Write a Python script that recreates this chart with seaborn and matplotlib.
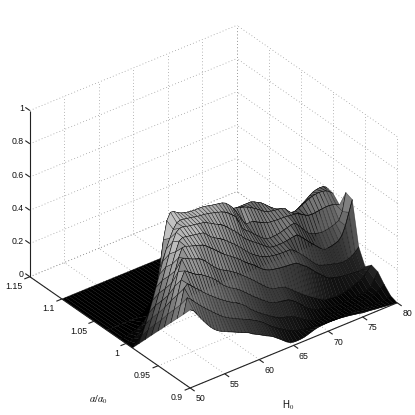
import numpy as np
import matplotlib
matplotlib.use("Agg")
import matplotlib.pyplot as plt
import seaborn as sns
from matplotlib.transforms import offset_copy
from mpl_toolkits.mplot3d import proj3d
from mpl_toolkits.mplot3d.art3d import Poly3DCollection

sns.set_theme(style="white")
plt.rcParams['font.family'] = ['Liberation Sans', 'DejaVu Sans']
plt.rcParams['mathtext.fontset'] = 'stix'

H_ticks = [50, 55, 60, 65, 70, 75, 80]
alpha_ticks = [0.9, 0.95, 1, 1.05, 1.1, 1.15]
alpha_tick_labels = ['0.9', '0.95', '1', '1.05', '1.1', '1.15']
z_ticks = [0, 0.2, 0.4, 0.6, 0.8, 1]
z_tick_labels = ['0', '0.2', '0.4', '0.6', '0.8', '1']

H_grid = np.arange(50, 80.5, 0.5)
alpha_rows = [0.90, 0.91, 0.92, 0.93, 0.94, 0.95, 0.96, 0.97, 0.98, 0.99, 1.00, 1.01, 1.03, 1.10]

# surface height (per mille) along each alpha row, H = 50 ... 80 in steps of 0.5
z_row_00 = [470,456,426,396,367,339,314,293,277,264,254,244,235,225,215,205,196,187,172,161,150,138,126,116,104,88,72,55,38,26,20,19,20,23,29,36,43,48,50,51,52,52,51,50,48,45,42,38,34,30,25,23,21,18,15,13,10,8,5,2,0]
z_row_01 = [417,507,490,468,447,425,405,386,367,348,330,312,297,285,274,263,252,242,232,222,210,198,185,170,152,133,118,103,89,77,63,53,45,38,32,27,22,19,17,15,14,13,12,11,11,10,10,10,10,10,10,10,9,8,7,6,5,5,6,10,15]
z_row_02 = [365,440,530,548,528,508,490,470,450,432,415,398,382,366,352,338,325,315,300,285,266,244,225,208,192,177,163,148,134,121,112,106,101,94,84,70,55,40,28,17,13,11,10,9,9,9,8,8,8,8,8,8,9,10,11,13,15,20,30,42,56]
z_row_03 = [313,385,465,545,590,575,560,545,535,524,510,495,478,460,437,414,395,380,366,354,339,322,303,284,266,249,232,216,200,186,177,171,167,164,159,148,132,114,93,72,55,42,32,25,20,16,13,11,9,7,7,8,8,9,10,11,14,20,34,70,106]
z_row_04 = [261,330,405,480,560,625,622,610,600,592,585,572,552,530,508,487,470,458,447,434,420,406,389,372,354,336,317,298,278,259,241,227,218,213,209,201,185,167,150,133,116,100,85,71,57,43,31,25,22,20,19,19,22,27,33,41,49,58,74,96,120]
z_row_05 = [209,270,335,400,465,530,600,650,650,642,635,628,622,615,600,583,565,547,528,510,495,480,465,450,432,413,395,380,365,345,328,313,303,296,292,288,285,283,281,279,276,262,245,230,210,188,168,148,130,111,101,94,88,83,80,77,75,73,71,73,84]
z_row_06 = [157,215,275,340,405,470,535,600,655,668,664,660,656,652,649,644,625,604,590,577,566,552,535,517,500,480,460,438,416,398,382,368,356,346,340,336,332,330,329,328,328,318,300,280,262,238,215,192,171,160,152,145,139,133,128,125,126,130,140,156,177]
z_row_07 = [104,160,220,285,350,420,490,560,625,672,688,688,682,677,674,670,666,663,652,640,628,617,607,592,573,553,535,512,488,463,445,428,414,398,381,364,351,346,344,344,345,348,352,356,358,340,318,297,275,255,235,215,203,203,206,212,220,245,295,365,433]
z_row_08 = [52,100,155,215,280,350,420,490,555,610,655,685,693,690,686,682,677,673,670,668,663,658,652,646,640,630,615,597,578,535,490,468,454,434,415,397,380,367,364,364,366,370,376,382,388,392,375,350,324,300,288,280,274,271,272,276,282,290,298,345,449]
z_row_09 = [0,20,40,70,100,145,205,300,420,575,680,722,718,703,692,685,680,677,675,675,675,672,667,662,658,654,650,640,620,597,565,525,490,463,465,462,450,440,430,420,416,414,412,411,410,408,405,402,398,385,372,362,360,362,365,368,370,370,366,358,348]
z_row_10 = [0,5,10,20,30,45,70,110,180,270,370,460,520,560,580,590,595,598,600,600,600,598,595,590,585,578,572,566,560,556,552,548,543,537,530,520,510,497,483,468,452,442,437,433,430,428,420,395,372,378,386,396,406,416,424,428,430,428,422,408,390]
z_row_11 = [0,0,0,5,10,15,25,40,70,110,160,220,280,330,380,420,450,470,485,495,500,503,505,505,505,504,503,502,501,500,500,500,500,500,500,500,500,500,500,492,480,469,452,433,415,398,384,368,352,338,326,332,348,362,376,392,405,412,415,413,400]
z_row_back = [0] * 61
z_row_end = [0] * 61

Z = np.array([z_row_00, z_row_01, z_row_02, z_row_03, z_row_04, z_row_05, z_row_06,
              z_row_07, z_row_08, z_row_09, z_row_10, z_row_11,
              z_row_back, z_row_end], dtype=float) / 1000.0
A = np.array(alpha_rows)
H = H_grid
BOX = (261, 262.5, 196.4)
gray_map = sns.color_palette("gray", as_cmap=True)

fig = plt.figure(figsize=(4.15, 4.15), dpi=100, facecolor='white')
ax = fig.add_axes([0, 0, 1, 1], projection='3d', proj_type='ortho', computed_zorder=False)
ax.set_xlim(50, 80, view_margin=0)
ax.set_ylim(0.9, 1.15, view_margin=0)
ax.set_zlim(0, 1, view_margin=0)
ax.view_init(elev=32.3, azim=-127.6)
ax.set_box_aspect(BOX)
ax.set_axis_off()

GRID = dict(color='#8c8c8c', lw=0.55, ls=(0, (1, 3.2)), zorder=1)
for h in H_ticks:
    ax.plot([h, h], [0.9, 1.15], [0, 0], **GRID)
    ax.plot([h, h], [1.15, 1.15], [0, 1], **GRID)
for a in alpha_ticks:
    ax.plot([50, 80], [a, a], [0, 0], **GRID)
    ax.plot([80, 80], [a, a], [0, 1], **GRID)
for z in z_ticks:
    ax.plot([50, 80], [1.15, 1.15], [z, z], **GRID)
    ax.plot([80, 80], [0.9, 1.15], [z, z], **GRID)

# facets
polys, faces, edges = [], [], []
lit = np.array([-0.80, -0.35, 0.48])
lit = lit / np.linalg.norm(lit)
for i in range(len(A) - 1):
    for j in range(len(H) - 1):
        p = [(H[j], A[i], Z[i, j]), (H[j + 1], A[i], Z[i, j + 1]),
             (H[j + 1], A[i + 1], Z[i + 1, j + 1]), (H[j], A[i + 1], Z[i + 1, j])]
        polys.append(p)
        v1 = np.array([(H[j + 1] - H[j]) / 30 * BOX[0], 0, (Z[i, j + 1] - Z[i, j]) * BOX[2]])
        v2 = np.array([0, (A[i + 1] - A[i]) / 0.25 * BOX[1], (Z[i + 1, j] - Z[i, j]) * BOX[2]])
        n = np.cross(v1, v2)
        n = n / np.linalg.norm(n)
        if n[2] < 0:
            n = -n
        lam = max(float(n @ lit), 0.0)
        zm = float(np.mean([q[2] for q in p]))
        g = 1.02 * zm ** 0.95 * (0.88 + 0.35 * lam)
        if i >= 11:
            g = 0.0
        faces.append(gray_map(min(g, 0.76)))
        edges.append((0, 0, 0, 0.5))
for i in range(12):
    for j in range(len(H) - 1):
        a1 = (H[j], A[i], Z[i, j])
        a2 = (H[j + 1], A[i], Z[i, j + 1])
        polys.append([a1, a2, a2, a1])
        faces.append((0, 0, 0, 0))
        edges.append((0, 0, 0, 1))
surf = Poly3DCollection(polys, facecolors=faces, edgecolors=edges, linewidths=0.42,
                        zsort='average', zorder=2)
ax.add_collection3d(surf)

# axes lines & ticks
AX = dict(color='#222222', lw=0.8, zorder=3, solid_capstyle='butt')
ax.plot([50, 50], [0.9, 1.15], [0, 0], **AX)
ax.plot([50, 80], [0.9, 0.9], [0, 0], **AX)
ax.plot([50, 50], [1.15, 1.15], [0, 1], **AX)
for h in H_ticks:
    ax.plot([h, h], [0.9, 0.893], [0, 0], **AX)
for a in alpha_ticks:
    ax.plot([50, 49.2], [a, a], [0, 0], **AX)
for z in z_ticks:
    ax.plot([50, 50], [1.15, 1.157], [z, z], **AX)

# calibrate the axes box onto the reference's corner positions
targets = {(50, 0.9, 0): (190, 388), (80, 0.9, 0): (397, 303), (50, 1.15, 0): (30, 277), (50, 1.15, 1): (30, 110)}
def where():
    fig.canvas.draw()
    out = []
    M = ax.get_proj()
    for k in targets:
        x, y, _ = proj3d.proj_transform(*k, M)
        out.append(ax.transData.transform((x, y)))
    return np.array(out)
want = np.array([(x, 415 - y) for x, y in targets.values()], dtype=float)
for _ in range(3):
    got = where()
    s = np.sqrt(((want - want.mean(0)) ** 2).sum() / ((got - got.mean(0)) ** 2).sum())
    pos = ax.get_position()
    w = pos.width * s
    cx = pos.x0 + pos.width / 2
    cy = pos.y0 + pos.height / 2
    ax.set_position([cx - w / 2, cy - w / 2, w, w])
    got = where()
    d = (want - got).mean(0) / 415
    pos = ax.get_position()
    ax.set_position([pos.x0 + d[0], pos.y0 + d[1], pos.width, pos.height])

fig.canvas.draw()
M = ax.get_proj()
TXT = dict(fontsize=6.3, color='#111111', zorder=4)
def label(x3, y3, z3, s, dx, dy, ha):
    x, y, _ = proj3d.proj_transform(x3, y3, z3, M)
    ax.text2D(x, y, s, ha=ha, va='center',
              transform=offset_copy(ax.transData, fig, x=dx, y=dy, units='dots'), **TXT)
for h in H_ticks:
    label(h, 0.9, 0, str(h), 10, -11, 'center')
for a, lab in zip(alpha_ticks, alpha_tick_labels):
    label(50, a, 0, lab, -7, -10, 'right')
for z, lab in zip(z_ticks, z_tick_labels):
    label(50, 1.15, z, lab, -6, 2, 'right')

fig.text(98 / 415, 1 - 400 / 415, r'$\alpha/\alpha_0$', ha='center', va='center', fontsize=7, color='#111111')
fig.text(288 / 415, 1 - 405 / 415, r'H$_{\mathrm{0}}$', ha='center', va='center', fontsize=7, color='#111111')

fig.savefig('out.png', dpi=100, facecolor='white')
